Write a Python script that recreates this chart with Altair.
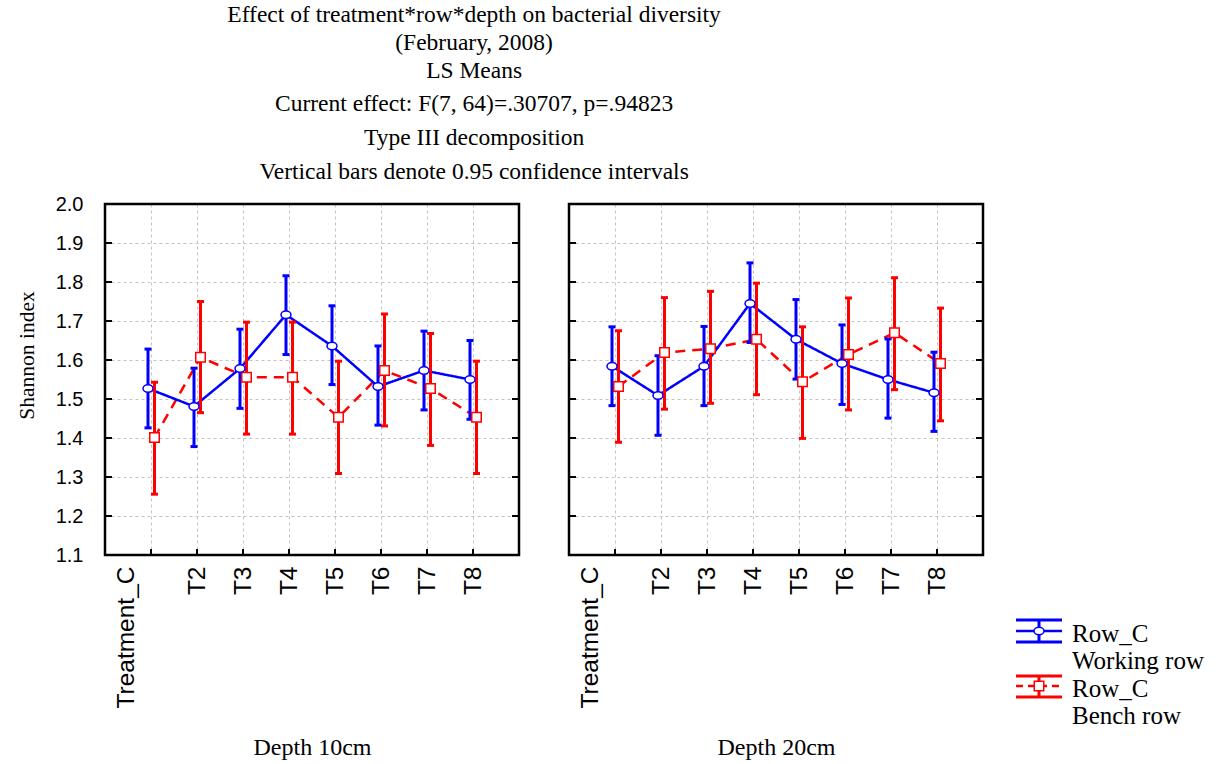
import altair as alt
import pandas as pd

categories = ["Treatment_C", "T2", "T3", "T4", "T5", "T6", "T7", "T8"]
depths = ["Depth 10cm", "Depth 20cm"]
series_names = ["Working row", "Bench row"]

# Depth 10cm
w10_mean = [1.527, 1.481, 1.578, 1.716, 1.636, 1.532, 1.573, 1.550]
w10_low = [1.426, 1.378, 1.476, 1.614, 1.537, 1.433, 1.472, 1.448]
w10_high = [1.628, 1.579, 1.679, 1.816, 1.739, 1.636, 1.674, 1.650]
b10_mean = [1.401, 1.607, 1.556, 1.556, 1.453, 1.573, 1.527, 1.453]
b10_low = [1.256, 1.465, 1.410, 1.410, 1.309, 1.431, 1.381, 1.309]
b10_high = [1.543, 1.750, 1.697, 1.697, 1.597, 1.718, 1.668, 1.597]
# Depth 20cm
w20_mean = [1.584, 1.509, 1.584, 1.745, 1.653, 1.591, 1.550, 1.516]
w20_low = [1.483, 1.407, 1.483, 1.645, 1.551, 1.486, 1.451, 1.417]
w20_high = [1.685, 1.611, 1.686, 1.849, 1.755, 1.690, 1.654, 1.620]
b20_mean = [1.532, 1.619, 1.629, 1.653, 1.544, 1.614, 1.670, 1.591]
b20_low = [1.389, 1.474, 1.489, 1.511, 1.399, 1.472, 1.524, 1.444]
b20_high = [1.675, 1.760, 1.776, 1.797, 1.685, 1.759, 1.811, 1.733]

y_ticks = [1.1, 1.2, 1.3, 1.4, 1.5, 1.6, 1.7, 1.8, 1.9, 2.0]

rows = []
for depth, ser, m, lo, hi in [
    (depths[0], series_names[0], w10_mean, w10_low, w10_high),
    (depths[0], series_names[1], b10_mean, b10_low, b10_high),
    (depths[1], series_names[0], w20_mean, w20_low, w20_high),
    (depths[1], series_names[1], b20_mean, b20_low, b20_high),
]:
    for i, c in enumerate(categories):
        rows.append(dict(depth=depth, series=ser, idx=i + 1, cat=c,
                         mean=m[i], low=lo[i], high=hi[i]))
df = pd.DataFrame(rows)

W, H = 414, 351
BLUE = "#0000ff"
RED = "#ff0000"
SERIF = "Liberation Serif"
SANS = "Liberation Sans"
ELLIPSE = "M -1 0 A 1 0.75 0 1 1 1 0 A 1 0.75 0 1 1 -1 0 Z"

xscale = alt.Scale(domain=[0, 9], nice=False, zero=False)
yscale = alt.Scale(domain=[1.1, 2.0], nice=False, zero=False)
label_expr = "[''," + ",".join("'%s'" % c for c in categories) + "][datum.value]"
grid_hide = {"condition": {"test": "datum.value <= 1.1001 || datum.value >= 1.9999",
                           "value": 0}, "value": 1}


def panel(depth, show_y, legend=False):
    d = df[df.depth == depth]
    xaxis = alt.Axis(values=list(range(1, 9)), labelExpr=label_expr, labelAngle=-90,
                     ticks=False, domain=False, grid=True, gridDash=[3, 3],
                     gridColor="#c4c4c4", gridWidth=1, labelFont=SANS, labelFontSize=24.5,
                     labelColor="black", labelPadding=11, labelFlush=False,
                     labelOverlap=False,
                     labelOffset={"condition": {"test": "datum.value == 1", "value": -25},
                                  "value": 0},
                     title=depth, titleFont=SERIF, titleFontSize=24,
                     titleFontWeight="normal", titleColor="black", titlePadding=27)
    if show_y:
        yaxis = alt.Axis(values=y_ticks, format=".1f", ticks=False, domain=False,
                         grid=True, gridDash=[3, 3], gridColor="#c4c4c4", gridWidth=1,
                         gridOpacity=grid_hide,
                         labelFont=SANS, labelFontSize=20, labelColor="black",
                         labelPadding=22, title="Shannon index", titleFont=SERIF,
                         titleFontSize=21.5, titleFontWeight="normal", titleColor="black",
                         titlePadding=17, titleY=151)
    else:
        yaxis = alt.Axis(values=y_ticks, ticks=False, domain=False, labels=False,
                         grid=True, gridDash=[3, 3], gridColor="#c4c4c4", gridWidth=1,
                         gridOpacity=grid_hide, title=None)

    X = lambda f: alt.X(f, scale=xscale, axis=xaxis)
    Y = lambda f: alt.Y(f, scale=yscale, axis=yaxis)

    layers = []
    # inward ticks
    tk = pd.DataFrame({"v": y_ticks})
    layers.append(alt.Chart(tk).mark_rule(color="black", strokeWidth=2).encode(
        y=Y("v:Q"), x=alt.value(0), x2=alt.value(7)))
    layers.append(alt.Chart(tk).mark_rule(color="black", strokeWidth=2).encode(
        y=Y("v:Q"), x=alt.value(W), x2=alt.value(W - 7)))
    tx = pd.DataFrame({"i": list(range(1, 9))})
    layers.append(alt.Chart(tx).mark_rule(color="black", strokeWidth=2).encode(
        x=X("i:Q"), y=alt.value(H), y2=alt.value(H - 6)))

    specs = [("Bench row", RED, [10, 7], "square", 90, 3.5),
             ("Working row", BLUE, [1, 0], ELLIPSE, 100, -3)]
    for ser, color, dash, shape, size, off in specs:
        s = alt.Chart(d).transform_filter(alt.datum.series == ser)
        layers.append(s.mark_line(color=color, strokeWidth=2.5, strokeDash=dash,
                                  xOffset=off).encode(x=X("idx:Q"), y=Y("mean:Q")))
    for ser, color, dash, shape, size, off in specs:
        s = alt.Chart(d).transform_filter(alt.datum.series == ser)
        layers.append(s.mark_rule(color=color, strokeWidth=3, xOffset=off).encode(
            x=X("idx:Q"), y=Y("low:Q"), y2="high:Q"))
        layers.append(s.transform_fold(["low", "high"], as_=["k", "v"]).mark_tick(
            orient="horizontal", size=7, thickness=3, color=color, xOffset=off,
            opacity=1).encode(x=X("idx:Q"), y=Y("v:Q")))
    for ser, color, dash, shape, size, off in specs:
        s = alt.Chart(d).transform_filter(alt.datum.series == ser)
        layers.append(s.mark_point(shape=shape, filled=True, fill="white", stroke=color,
                                   strokeWidth=1.5, size=size, opacity=1,
                                   xOffset=off).encode(x=X("idx:Q"), y=Y("mean:Q")))

    one = pd.DataFrame({"a": [0]})
    # frame on top
    layers.append(alt.Chart(one).mark_rect(fillOpacity=0, stroke="black",
                                           strokeWidth=2.5).encode(
        x=alt.value(0), x2=alt.value(W), y=alt.value(0), y2=alt.value(H)))

    if legend:
        items = [("Working row", BLUE, [1, 0], ELLIPSE, 100, 416, 427, 438, 430, 457),
                 ("Bench row", RED, [7, 5], "square", 90, 472, 482, 493, 485, 512)]
        for ser, color, dash, shape, size, top, mid, bot, t1, t2 in items:
            base = alt.Chart(one)
            for yy in (top, bot):
                layers.append(base.mark_rule(color=color, strokeWidth=3).encode(
                    x=alt.value(447), x2=alt.value(493), y=alt.value(yy)))
            layers.append(base.mark_rule(color=color, strokeWidth=3).encode(
                x=alt.value(470), y=alt.value(top), y2=alt.value(bot)))
            layers.append(base.mark_rule(color=color, strokeWidth=2.5, strokeDash=dash).encode(
                x=alt.value(447), x2=alt.value(493), y=alt.value(mid)))
            layers.append(base.mark_point(shape=shape, filled=True, fill="white",
                                          stroke=color, strokeWidth=1.5, size=size,
                                          opacity=1).encode(
                x=alt.value(470), y=alt.value(mid)))
            layers.append(base.mark_text(align="left", baseline="middle", font=SERIF,
                                         fontSize=25, color="black").encode(
                x=alt.value(503), y=alt.value(t1), text=alt.value("Row_C")))
            layers.append(base.mark_text(align="left", baseline="middle", font=SERIF,
                                         fontSize=25, color="black").encode(
                x=alt.value(503), y=alt.value(t2), text=alt.value(ser)))

    return alt.layer(*layers).properties(width=W, height=H)


chart = alt.hconcat(
    panel(depths[0], True),
    panel(depths[1], False, legend=True),
    spacing=46,
).properties(
    title=alt.TitleParams(
        text=["Effect of treatment*row*depth on bacterial diversity",
              "(February, 2008)", "LS Means"],
        subtitle=["Current effect: F(7, 64)=.30707, p=.94823",
                  "Type III decomposition",
                  "Vertical bars denote 0.95 confidence intervals"],
        font=SERIF, fontSize=23.5, fontWeight="normal", lineHeight=28, color="black",
        subtitleFont=SERIF, subtitleFontSize=23.5, subtitleLineHeight=34,
        subtitleColor="black", subtitlePadding=9, anchor="middle", dx=-136, offset=11),
    padding={"left": 16, "top": 3, "right": 5, "bottom": 5},
).configure_view(stroke=None)

chart.save("out.html", embed_options={"renderer": "svg", "actions": False})
